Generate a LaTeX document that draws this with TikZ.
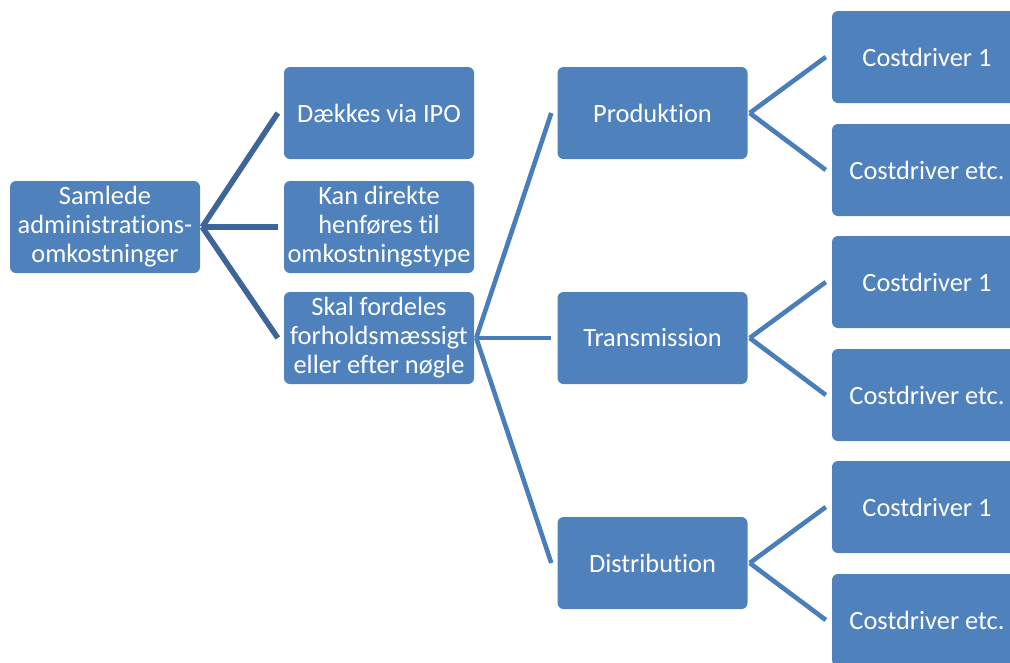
\documentclass[tikz,border=0pt]{standalone}
\usepackage{fontspec}
\setmainfont[RawFeature={-liga}]{Carlito}
\usetikzlibrary{calc}
\definecolor{boxblue}{HTML}{4F81BD}
\definecolor{connA}{HTML}{3E6597}
\definecolor{connB}{HTML}{4A7EBB}
\tikzset{
  box/.style={rectangle, rounded corners=6pt, fill=boxblue, draw=none,
    minimum width=190pt, minimum height=92pt, inner sep=0pt,
    text=white, align=center,
    font=\fontsize{26.4pt}{29pt}\selectfont},
  connone/.style={draw=connA, line width=5.5pt},
  conntwo/.style={draw=connB, line width=4.6pt},
}
\begin{document}
\begin{tikzpicture}[x=1pt,y=-1pt]
\clip (0,0) rectangle (1010,662);
\fill[white] (0,0) rectangle (1010,662);
% column 1
\node[box] (root) at (105,227) {Samlede\\administrations-\\omkostninger};
% column 2
\node[box] (ipo) at (379,113) {Dækkes via IPO};
\node[box] (dir) at (379,227) {Kan direkte\\henføres til\\omkostningstype};
\node[box] (skal) at (379,338) {Skal fordeles\\forholdsmæssigt\\eller efter nøgle};
% column 3
\node[box] (prod) at (652.5,113) {Produktion};
\node[box] (trans) at (652.5,338) {Transmission};
\node[box] (dist) at (652.5,563) {Distribution};
% column 4
\node[box] (p1) at (927,57) {Costdriver 1};
\node[box] (p2) at (927,170) {Costdriver etc.};
\node[box] (t1) at (927,282) {Costdriver 1};
\node[box] (t2) at (927,395) {Costdriver etc.};
\node[box] (d1) at (927,507) {Costdriver 1};
\node[box] (d2) at (927,620) {Costdriver etc.};
% fork points
\coordinate (rootf) at ([xshift=2pt]root.east);
\coordinate (skalf) at ([xshift=2pt]skal.east);
\coordinate (prodf) at ([xshift=2pt]prod.east);
\coordinate (transf) at ([xshift=2pt]trans.east);
\coordinate (distf) at ([xshift=2pt]dist.east);
% connectors
\draw[connone] (rootf) -- ([xshift=-6pt]ipo.west);
\draw[connone] (rootf) -- ([xshift=-6pt]dir.west);
\draw[connone] (rootf) -- ([xshift=-6pt]skal.west);
\draw[conntwo] (skalf) -- ([xshift=-6pt]prod.west);
\draw[conntwo] (skalf) -- ([xshift=-6pt]trans.west);
\draw[conntwo] (skalf) -- ([xshift=-6pt]dist.west);
\draw[conntwo] (prodf) -- ([xshift=-6pt]p1.west);
\draw[conntwo] (prodf) -- ([xshift=-6pt]p2.west);
\draw[conntwo] (transf) -- ([xshift=-6pt]t1.west);
\draw[conntwo] (transf) -- ([xshift=-6pt]t2.west);
\draw[conntwo] (distf) -- ([xshift=-6pt]d1.west);
\draw[conntwo] (distf) -- ([xshift=-6pt]d2.west);
\end{tikzpicture}
\end{document}
